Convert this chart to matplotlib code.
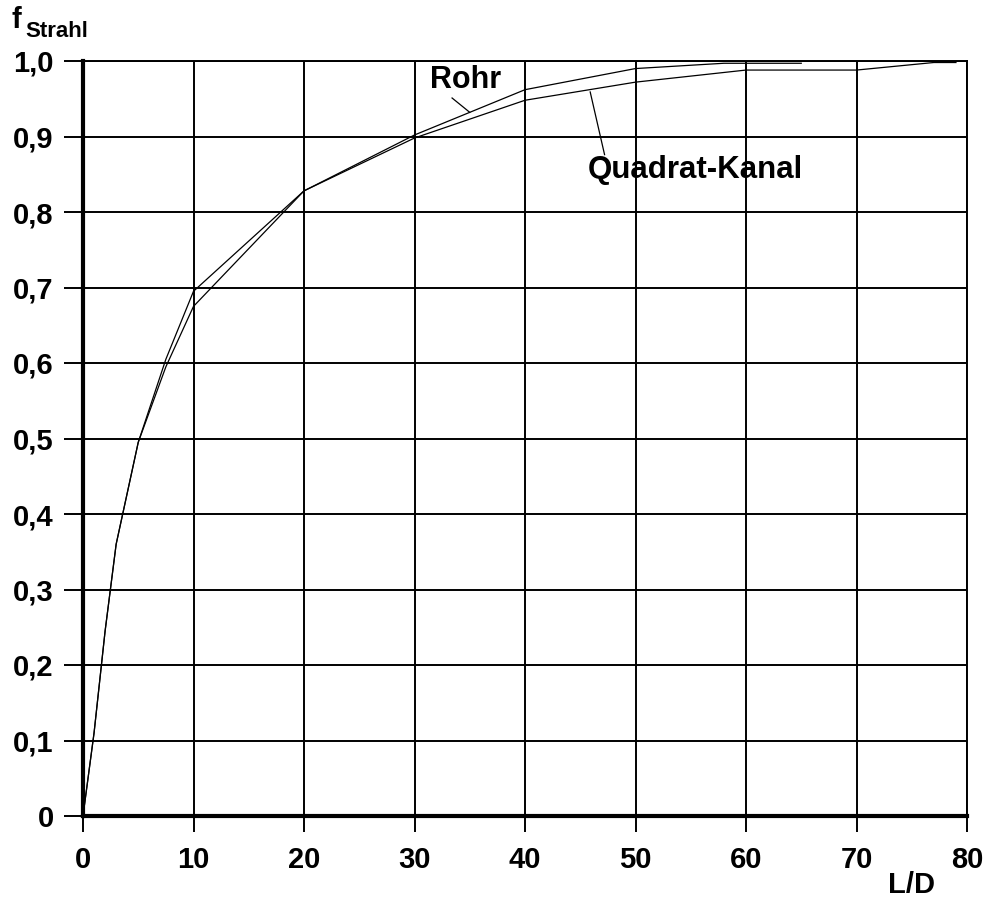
import matplotlib.pyplot as plt

# Werte
ld_rohr = [0, 1, 2, 3, 5, 7.5, 10, 20, 30, 40, 50, 58, 65]
f_rohr = [0, 0.11, 0.245, 0.36, 0.495, 0.605, 0.695, 0.828, 0.902, 0.962, 0.99, 0.997, 0.997]

ld_kanal = [0, 1, 2, 3, 5, 7.5, 10, 20, 30, 40, 50, 60, 70, 77, 79]
f_kanal = [0, 0.11, 0.245, 0.36, 0.495, 0.595, 0.675, 0.828, 0.898, 0.948, 0.972, 0.988, 0.988, 0.998, 0.998]

x_ticks = [0, 10, 20, 30, 40, 50, 60, 70, 80]
y_ticks = [0, 0.1, 0.2, 0.3, 0.4, 0.5, 0.6, 0.7, 0.8, 0.9, 1.0]
y_labels = ["0", "0,1", "0,2", "0,3", "0,4", "0,5", "0,6", "0,7", "0,8", "0,9", "1,0"]

plt.rcParams['font.family'] = ['Liberation Sans', 'DejaVu Sans']
plt.rcParams['font.weight'] = 'bold'

W, H = 991, 899
fig = plt.figure(figsize=(W / 100, H / 100), dpi=100)
ax = fig.add_axes([83 / W, 1 - 816 / H, (967 - 83) / W, (816 - 61) / H])

ax.plot(ld_rohr, f_rohr, color='black', lw=0.9, zorder=3)
ax.plot(ld_kanal, f_kanal, color='black', lw=0.9, zorder=3)

ax.set_xlim(0, 80)
ax.set_ylim(0, 1)
ax.set_xticks(x_ticks)
ax.set_xticklabels([str(x) for x in x_ticks])
ax.set_yticks(y_ticks)
ax.set_yticklabels(y_labels)
ax.grid(True, color='black', lw=1.4)
ax.set_axisbelow(True)

for side in ['top', 'right']:
    ax.spines[side].set_linewidth(1.4)
for side in ['left', 'bottom']:
    ax.spines[side].set_linewidth(3)

ax.tick_params(axis='x', direction='out', length=11.5, width=1.4, pad=10, labelsize=21)
ax.tick_params(axis='y', direction='out', length=14, width=1.4, pad=7, labelsize=21)

# Beschriftungen der Kurven
ax.text(34.6, 0.975, 'Rohr', ha='center', va='center', fontsize=22, fontweight='bold')
ax.plot([33.4, 35.0], [0.951, 0.932], color='black', lw=0.9)
ax.text(55.4, 0.856, 'Quadrat-Kanal', ha='center', va='center', fontsize=22.5, fontweight='bold')
ax.plot([45.9, 47.2], [0.959, 0.876], color='black', lw=0.9)

# Achsentitel
fig.text(12 / W, 1 - 28 / H, 'f', va='baseline', fontsize=21, fontweight='bold')
fig.text(25 / W, 1 - 37 / H, 'Strahl', va='baseline', fontsize=16, fontweight='bold')
fig.text(912 / W, 1 - 885 / H, 'L/D', ha='center', va='center', fontsize=21, fontweight='bold')

fig.savefig('out.png', dpi=100)
